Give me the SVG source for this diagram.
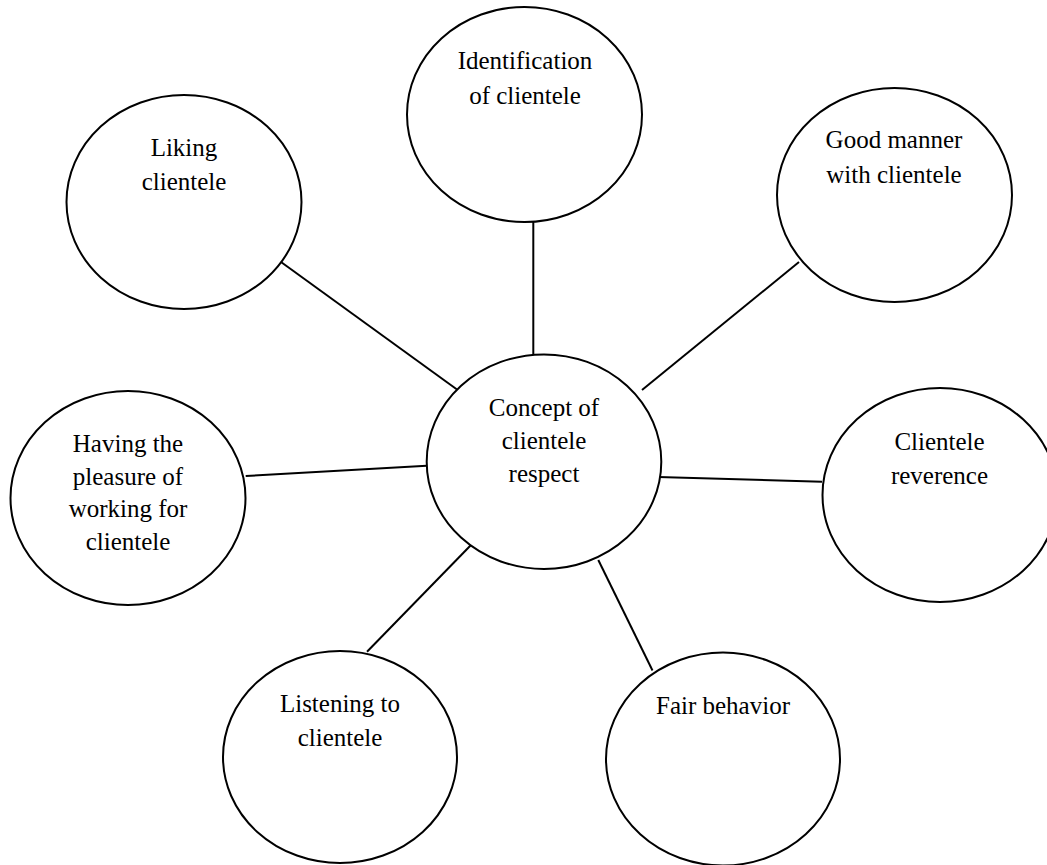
<svg xmlns="http://www.w3.org/2000/svg" width="1047" height="865" viewBox="0 0 1047 865">
<style>
.node ellipse{fill:#fff;stroke:#000;stroke-width:2}
.node text{font-family:"Liberation Serif","Times New Roman",serif;font-size:25px;fill:#000;text-anchor:middle}
#connectors line{stroke:#000;stroke-width:2}
</style>
<rect width="1047" height="865" fill="#fff"/>
<g id="connectors">
<line x1="533.3" y1="222" x2="533.3" y2="354.5"/>
<line x1="281" y1="262" x2="457" y2="389.5"/>
<line x1="799" y1="262" x2="642" y2="390"/>
<line x1="245.7" y1="476" x2="426.7" y2="465.7"/>
<line x1="658" y1="477" x2="822" y2="481.7"/>
<line x1="471" y1="545" x2="367" y2="651.7"/>
<line x1="598.3" y1="560" x2="652.5" y2="670.5"/>
</g>
<g id="n-identification" class="node">
<ellipse cx="524.5" cy="114.5" rx="117.5" ry="107.5"/>
<text x="525" y="69">Identification</text>
<text x="525" y="104">of clientele</text>
</g>
<g id="n-liking" class="node">
<ellipse cx="184" cy="202" rx="117.5" ry="107"/>
<text x="184" y="156">Liking</text>
<text x="184" y="190">clientele</text>
</g>
<g id="n-goodmanner" class="node">
<ellipse cx="894.5" cy="195" rx="117.5" ry="107"/>
<text x="894" y="148">Good manner</text>
<text x="894" y="183">with clientele</text>
</g>
<g id="n-having" class="node">
<ellipse cx="128" cy="498" rx="117.5" ry="107"/>
<text x="128" y="452">Having the</text>
<text x="128" y="484.5">pleasure of</text>
<text x="128" y="517">working for</text>
<text x="128" y="550">clientele</text>
</g>
<g id="n-center" class="node">
<ellipse cx="544" cy="461.7" rx="117.3" ry="107.3"/>
<text x="544" y="416">Concept of</text>
<text x="544" y="449">clientele</text>
<text x="544" y="482">respect</text>
</g>
<g id="n-reverence" class="node">
<ellipse cx="940" cy="495" rx="117.5" ry="107"/>
<text x="939.5" y="450">Clientele</text>
<text x="939.5" y="484">reverence</text>
</g>
<g id="n-listening" class="node">
<ellipse cx="340" cy="757" rx="117" ry="106"/>
<text x="340" y="712">Listening to</text>
<text x="340" y="746">clientele</text>
</g>
<g id="n-fair" class="node">
<ellipse cx="723" cy="759" rx="117" ry="106.5"/>
<text x="723" y="714">Fair behavior</text>
</g>
</svg>
